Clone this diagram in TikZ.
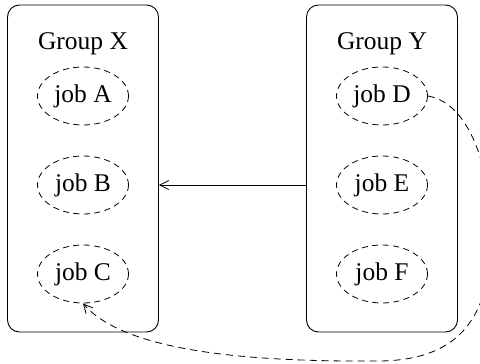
\documentclass[tikz,border=0pt]{standalone}
\usepackage{fontspec}
\setmainfont{Liberation Serif}
\usetikzlibrary{arrows.meta,shapes.geometric}
\begin{document}
\begin{tikzpicture}[x=1pt,y=-1pt,
  groupbox/.style={draw, rounded corners=12pt, line width=0.9pt},
  grouplabel/.style={font=\fontsize{25.5}{28}\selectfont, anchor=center},
  job/.style={draw, ellipse, dash pattern=on 6pt off 4.5pt, line width=0.8pt,
    minimum width=91pt, minimum height=58pt, inner sep=0pt,
    font=\fontsize{25.5}{28}\selectfont},
  link/.style={line width=0.8pt, -{Straight Barb[length=9pt,width=9pt]}},
  dlink/.style={link, dash pattern=on 7pt off 5pt}
]
\useasboundingbox (0,0) rectangle (480,364);
\clip (0,0) rectangle (480,364);

% group containers
\node[groupbox, minimum width=151pt, minimum height=327pt, inner sep=0pt] (gx) at (83,168.5) {};
\node[groupbox, minimum width=151pt, minimum height=327pt, inner sep=0pt] (gy) at (382,168.5) {};
\node[grouplabel] (lx) at (83,43.5) {Group X};
\node[grouplabel] (ly) at (382,43.5) {Group Y};

% jobs
\node[job] (a) at (83,96) {job A};
\node[job] (b) at (83,185) {job B};
\node[job] (c) at (83,274) {job C};
\node[job] (d) at (382,96) {job D};
\node[job] (e) at (382,185) {job E};
\node[job] (f) at (382,274) {job F};

% dependencies
\draw[link] (gy.west |- b) -- (gx.east |- b);
\draw[dlink] (d.east) .. controls (470,103) and (492,170) .. (491,240)
  .. controls (490,325) and (452,360) .. (380,361)
  .. controls (250,362) and (125,352) .. (c.south);
\end{tikzpicture}
\end{document}
